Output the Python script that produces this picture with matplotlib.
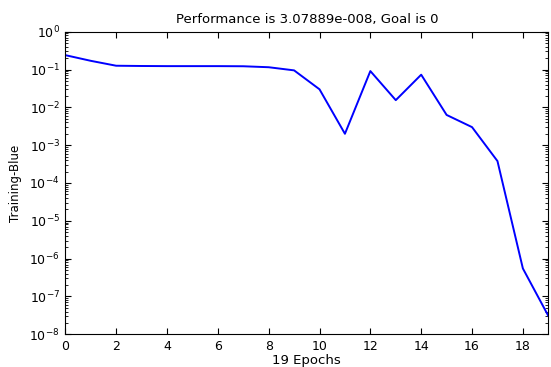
import numpy as np
import matplotlib
matplotlib.use("Agg")
import matplotlib.pyplot as plt
from matplotlib.ticker import LogLocator, FixedLocator, NullFormatter

plt.rcParams["font.family"] = ["DejaVu Sans"]
plt.rcParams["font.size"] = 9

# training performance per epoch
epochs = np.arange(20)
perf = [0.24, 0.17, 0.126, 0.124, 0.123, 0.123, 0.123, 0.122, 0.115, 0.095,
        0.030, 0.0020, 0.091, 0.0155, 0.073, 0.0063, 0.0030, 0.00038,
        5.5e-7, 3.07889e-8]
xticks = [0, 2, 4, 6, 8, 10, 12, 14, 16, 18]

fig = plt.figure(figsize=(5.51, 3.67), dpi=100)
ax = fig.add_axes([65.3 / 551, 1 - 334.3 / 367, (548.3 - 65.3) / 551, (334.3 - 31.7) / 367])

ax.semilogy(epochs, perf, color="#0000ff", linewidth=1.4)
ax.set_xlim(0, 19)
ax.set_ylim(1e-8, 1)
ax.xaxis.set_major_locator(FixedLocator(xticks))
ax.yaxis.set_major_locator(LogLocator(base=10, numticks=20))
ax.yaxis.set_minor_locator(LogLocator(base=10, subs=np.arange(2, 10), numticks=20))
ax.yaxis.set_minor_formatter(NullFormatter())
ax.tick_params(which="both", direction="in", top=True, right=True)
ax.tick_params(which="major", length=4, labelsize=9, pad=4)
ax.tick_params(which="minor", length=2)

ax.set_title("Performance is 3.07889e-008, Goal is 0", fontsize=9.5, pad=6)
ax.set_xlabel("19 Epochs", fontsize=9.5, labelpad=1)
ax.set_ylabel("Training-Blue", fontsize=8.5, labelpad=5)

fig.savefig("out.png", dpi=100)
